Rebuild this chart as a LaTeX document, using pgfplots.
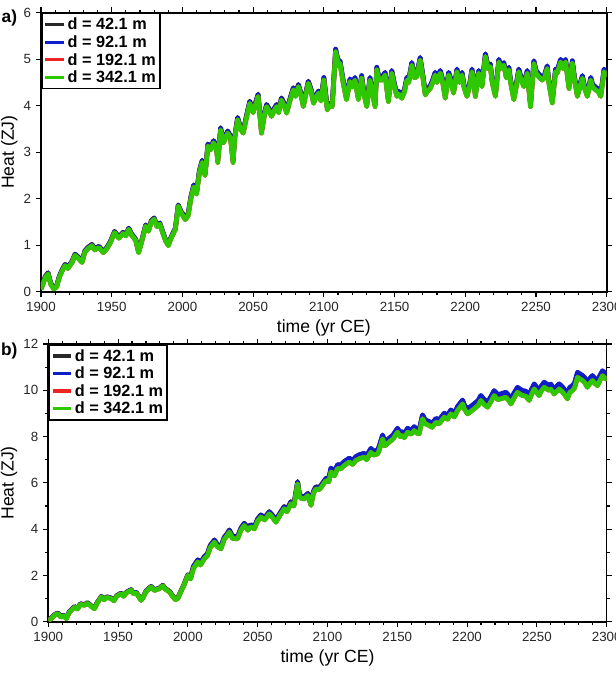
\documentclass[border=0pt]{standalone}
\usepackage{pgfplots}
\pgfplotsset{compat=1.18}
\usepackage{pgfplotstable}
\usepackage{fontspec}
\setmainfont{Liberation Sans}
\definecolor{cK}{RGB}{40,40,40}
\definecolor{cB}{RGB}{15,30,200}
\definecolor{cR}{RGB}{240,35,35}
\definecolor{cG}{RGB}{45,200,0}

\pgfplotstableread{
t k b g
1900 0.08 0.07 0.05
1901 0.16 0.15 0.13
1903 0.33 0.32 0.30
1905 0.41 0.40 0.38
1907 0.18 0.17 0.15
1909 0.09 0.08 0.06
1911 0.13 0.12 0.10
1913 0.34 0.33 0.31
1915 0.48 0.47 0.45
1917 0.59 0.58 0.56
1919 0.53 0.52 0.50
1922 0.66 0.65 0.63
1924 0.81 0.80 0.78
1926 0.76 0.75 0.73
1929 0.66 0.65 0.63
1931 0.88 0.87 0.85
1933 0.95 0.94 0.92
1936 1.02 1.01 0.99
1938 0.93 0.92 0.90
1941 0.98 0.97 0.95
1944 0.87 0.86 0.84
1946 0.93 0.92 0.90
1949 1.08 1.07 1.05
1952 1.30 1.29 1.27
1955 1.18 1.17 1.15
1958 1.28 1.27 1.25
1960 1.23 1.22 1.20
1962 1.37 1.36 1.34
1964 1.25 1.24 1.22
1967 1.13 1.12 1.10
1969 0.87 0.86 0.84
1971 1.08 1.07 1.05
1974 1.44 1.43 1.41
1976 1.33 1.32 1.30
1978 1.53 1.52 1.50
1980 1.59 1.58 1.56
1982 1.43 1.42 1.40
1984 1.48 1.47 1.45
1986 1.30 1.29 1.27
1988 1.13 1.12 1.10
1990 1.02 1.01 0.99
1992 1.18 1.17 1.15
1995 1.37 1.36 1.34
1997 1.87 1.86 1.84
1999 1.73 1.72 1.70
2002 1.60 1.59 1.55
2004 1.68 1.67 1.63
2006 2.05 2.04 2.00
2008 2.30 2.29 2.25
2010 2.15 2.14 2.10
2012 2.61 2.60 2.56
2014 2.83 2.82 2.78
2016 2.55 2.54 2.50
2018 3.18 3.17 3.13
2020 3.10 3.09 3.05
2022 3.25 3.24 3.20
2024 3.15 3.14 3.10
2025 2.83 2.82 2.78
2027 3.53 3.52 3.48
2029 3.25 3.24 3.20
2032 3.46 3.45 3.41
2034 3.35 3.34 3.30
2035.8 2.83 2.82 2.78
2037 3.35 3.34 3.30
2039 3.75 3.74 3.70
2041 3.55 3.54 3.50
2043 3.46 3.45 3.41
2045 3.75 3.74 3.70
2047.6 4.10 4.09 4.05
2050 3.90 3.89 3.85
2053.5 4.25 4.24 4.20
2055.9 3.46 3.45 3.41
2058 3.85 3.84 3.80
2059.5 4.03 4.02 3.98
2061 3.95 3.94 3.90
2063 3.82 3.81 3.77
2065 3.95 3.94 3.90
2066.6 4.03 4.02 3.98
2068 3.90 3.89 3.85
2070 4.17 4.16 4.12
2072 4.05 4.04 4.00
2073.7 3.89 3.88 3.84
2076 4.15 4.14 4.10
2078.4 4.39 4.38 4.34
2080 4.25 4.24 4.20
2082 4.46 4.45 4.41
2084 4.25 4.24 4.20
2085.5 4.03 4.02 3.98
2087 4.25 4.24 4.20
2089 4.53 4.52 4.48
2091 4.35 4.34 4.30
2092.7 4.10 4.09 4.05
2094 4.20 4.19 4.15
2096.2 4.32 4.31 4.27
2098 4.15 4.14 4.10
2100 4.60 4.61 4.55
2102.4 3.96 3.97 3.91
2104 4.05 4.06 4.00
2105.9 4.03 4.04 3.98
2108.3 5.21 5.22 5.16
2110.6 4.89 4.90 4.84
2111.4 4.96 4.97 4.91
2113.7 4.53 4.54 4.48
2116 4.18 4.19 4.13
2118.5 4.57 4.58 4.52
2120 4.45 4.46 4.40
2122 4.60 4.61 4.55
2124.4 4.18 4.19 4.13
2126.7 4.64 4.65 4.59
2128 4.35 4.36 4.30
2130.3 4.03 4.04 3.98
2132.6 4.60 4.61 4.55
2134 4.35 4.36 4.30
2136.2 4.03 4.04 3.98
2137.4 4.82 4.83 4.77
2139 4.60 4.61 4.55
2141 4.60 4.61 4.55
2143.3 4.71 4.72 4.66
2145.6 4.14 4.15 4.09
2148 4.75 4.76 4.70
2150 4.45 4.46 4.40
2151.6 4.25 4.26 4.20
2153 4.30 4.31 4.25
2155.1 4.21 4.22 4.16
2157 4.35 4.36 4.30
2158.7 4.60 4.61 4.55
2160 4.55 4.56 4.50
2162.2 4.92 4.93 4.87
2164 4.65 4.66 4.60
2165.7 4.67 4.68 4.62
2168.1 5.03 5.04 4.98
2170 4.65 4.66 4.60
2171.7 4.28 4.29 4.23
2173 4.35 4.36 4.30
2175.2 4.42 4.43 4.37
2177 4.55 4.56 4.50
2178.7 4.71 4.72 4.66
2180 4.55 4.56 4.50
2182.3 4.75 4.76 4.70
2184 4.55 4.56 4.50
2185.8 4.21 4.22 4.16
2187 4.45 4.46 4.40
2188.2 4.71 4.72 4.66
2190 4.55 4.56 4.50
2191.7 4.32 4.33 4.27
2194.1 4.78 4.79 4.73
2196 4.55 4.56 4.50
2197.7 4.71 4.72 4.66
2199 4.45 4.46 4.40
2201.2 4.25 4.26 4.20
2203 4.45 4.46 4.40
2204.7 4.78 4.79 4.73
2206 4.55 4.56 4.50
2207.1 4.25 4.26 4.20
2209.5 4.75 4.76 4.70
2211.8 4.46 4.47 4.41
2214.2 5.11 5.12 5.06
2216 4.85 4.86 4.80
2217.7 4.89 4.90 4.84
2219 4.55 4.56 4.50
2221.3 4.25 4.26 4.20
2223.7 4.99 5.00 4.94
2225 4.85 4.86 4.80
2227.2 4.92 4.93 4.87
2229 4.65 4.66 4.60
2230.8 4.82 4.83 4.77
2232 4.55 4.56 4.50
2234.3 4.18 4.19 4.13
2236 4.45 4.46 4.40
2237.8 4.78 4.79 4.73
2239 4.65 4.66 4.60
2241.4 4.46 4.47 4.41
2243.8 4.75 4.76 4.70
2246.1 4.03 4.04 3.98
2248.5 4.96 4.97 4.91
2250 4.75 4.76 4.70
2252 4.67 4.68 4.62
2254.4 4.60 4.61 4.55
2256 4.65 4.66 4.60
2257.9 4.85 4.86 4.80
2259 4.55 4.56 4.50
2261.5 4.11 4.12 4.06
2263.8 4.78 4.79 4.73
2265 4.75 4.76 4.70
2267.4 4.99 5.00 4.94
2269 4.85 4.86 4.80
2270.9 4.99 5.00 4.94
2273.3 4.42 4.43 4.37
2275.7 4.96 4.97 4.91
2277 4.65 4.66 4.60
2279.2 4.25 4.26 4.20
2281 4.45 4.46 4.40
2282.8 4.64 4.65 4.59
2284 4.45 4.46 4.40
2286.3 4.25 4.26 4.20
2288.7 4.60 4.61 4.55
2290 4.45 4.46 4.40
2292.2 4.39 4.40 4.34
2294 4.35 4.36 4.30
2295.8 4.25 4.26 4.20
2298.1 4.78 4.79 4.73
2300 4.67 4.68 4.62
}\topdata

\pgfplotstableread{
t k b g
1900 0.08 0.07 0.05
1902 0.16 0.15 0.13
1905 0.33 0.32 0.30
1907 0.38 0.37 0.35
1909 0.23 0.22 0.20
1911 0.28 0.27 0.25
1913 0.16 0.15 0.13
1915 0.43 0.42 0.40
1918.8 0.66 0.65 0.63
1921 0.58 0.57 0.55
1923 0.78 0.77 0.75
1926 0.74 0.73 0.71
1928 0.83 0.82 0.80
1931 0.68 0.67 0.65
1933.1 0.59 0.58 0.56
1935 0.83 0.82 0.80
1938 1.10 1.09 1.07
1940 0.98 0.97 0.95
1942 1.08 1.07 1.05
1945 1.03 1.02 1.00
1947 0.93 0.92 0.90
1949 1.13 1.12 1.10
1952.2 1.24 1.23 1.21
1954 1.13 1.12 1.10
1956 1.28 1.27 1.25
1959.4 1.39 1.38 1.36
1961 1.23 1.22 1.20
1963 1.28 1.27 1.25
1966.5 0.95 0.94 0.92
1968 1.08 1.07 1.05
1970 1.33 1.32 1.30
1973.7 1.53 1.52 1.50
1976 1.38 1.37 1.35
1979.7 1.46 1.45 1.43
1982 1.58 1.57 1.55
1984 1.43 1.42 1.40
1986.8 1.32 1.31 1.29
1989 1.13 1.12 1.10
1991 0.98 0.97 0.95
1992.8 1.03 1.02 1.00
1995 1.33 1.32 1.30
1997 1.58 1.57 1.55
1999.9 2.03 2.02 2.00
2002 1.95 1.93 1.85
2004 2.40 2.38 2.30
2007.1 2.68 2.66 2.58
2009 2.55 2.53 2.45
2011.8 2.82 2.80 2.72
2014 2.95 2.93 2.85
2016 3.30 3.28 3.20
2019 3.54 3.52 3.44
2021 3.35 3.33 3.25
2023.7 3.25 3.23 3.15
2026 3.65 3.63 3.55
2028 3.80 3.78 3.70
2029.7 3.97 3.95 3.87
2032 3.70 3.68 3.60
2035.6 3.68 3.66 3.58
2038 4.05 4.03 3.95
2040.4 4.26 4.24 4.16
2043 4.05 4.03 3.95
2045 4.20 4.18 4.10
2047.6 4.11 4.09 4.01
2050 4.45 4.43 4.35
2052.3 4.62 4.60 4.52
2055 4.50 4.48 4.40
2058.3 4.76 4.74 4.66
2060 4.65 4.63 4.55
2063.1 4.40 4.38 4.30
2066 4.70 4.68 4.60
2069 4.98 4.96 4.88
2071 4.85 4.83 4.75
2073.8 5.19 5.17 5.09
2076 5.10 5.08 5.00
2078.6 6.06 6.04 5.96
2080 5.50 5.48 5.40
2081.5 5.42 5.40 5.32
2083.4 5.41 5.39 5.31
2086 5.55 5.53 5.45
2088.2 5.13 5.11 5.03
2090 5.65 5.63 5.55
2091.7 5.84 5.82 5.74
2094 5.80 5.78 5.70
2096 5.95 5.93 5.85
2098.9 6.20 6.18 6.10
2101 6.21 6.22 6.05
2102.5 6.63 6.64 6.47
2105 6.46 6.47 6.30
2107.2 6.78 6.79 6.62
2109.6 6.77 6.78 6.61
2112 6.91 6.92 6.75
2115.6 7.06 7.07 6.90
2118 6.96 6.97 6.80
2120.4 7.13 7.14 6.97
2123 7.21 7.22 7.05
2126.3 7.27 7.28 7.11
2128 7.16 7.17 7.00
2131.1 7.48 7.49 7.32
2133 7.36 7.37 7.20
2135.9 7.41 7.42 7.25
2137 7.56 7.57 7.40
2139.5 8.06 8.07 7.90
2141 7.76 7.77 7.60
2144.2 7.92 7.93 7.76
2147 8.06 8.07 7.90
2150.2 8.35 8.36 8.19
2152 8.16 8.17 8.00
2153.8 8.21 8.22 8.05
2155 8.11 8.12 7.95
2157.4 8.35 8.36 8.19
2160 8.26 8.27 8.10
2162.1 8.42 8.43 8.26
2164 8.31 8.32 8.15
2165.7 8.28 8.29 8.12
2168.1 8.93 8.94 8.77
2170 8.71 8.72 8.55
2172.9 8.64 8.65 8.48
2175 8.56 8.57 8.40
2177.7 8.78 8.79 8.62
2180 8.71 8.72 8.55
2183.6 9.00 9.01 8.84
2186 8.91 8.92 8.75
2188.4 9.14 9.15 8.98
2191 9.01 9.02 8.85
2193.2 9.29 9.30 9.13
2196.8 9.57 9.58 9.41
2198 9.36 9.37 9.20
2200.3 9.18 9.20 8.98
2203 9.30 9.32 9.10
2205.1 9.40 9.42 9.20
2208 9.55 9.57 9.35
2209.9 9.76 9.78 9.56
2212 9.60 9.62 9.40
2214.7 9.47 9.49 9.27
2217 9.70 9.72 9.50
2219.4 9.97 9.99 9.77
2222 9.80 9.82 9.60
2224.2 9.83 9.85 9.63
2227.8 9.90 9.92 9.70
2230 9.75 9.77 9.55
2231.4 9.61 9.63 9.41
2234 9.90 9.92 9.70
2236.1 10.11 10.13 9.91
2239.7 9.97 9.99 9.77
2242 9.95 9.97 9.75
2244.5 9.76 9.78 9.56
2246 10.00 10.02 9.80
2248.1 10.26 10.28 10.06
2250 10.10 10.12 9.90
2251.6 9.97 9.99 9.77
2253 10.15 10.17 9.95
2255.2 10.33 10.35 10.13
2258.8 10.19 10.21 9.99
2260 10.25 10.27 10.05
2262.4 10.04 10.06 9.84
2266 10.26 10.28 10.06
2268 10.15 10.17 9.95
2269.5 10.04 10.06 9.84
2271.9 9.83 9.85 9.63
2273.5 10.10 10.12 9.90
2275.5 10.19 10.21 9.99
2277 10.30 10.32 10.10
2279.1 10.76 10.78 10.56
2282.7 10.62 10.64 10.42
2284 10.55 10.57 10.35
2286.2 10.33 10.35 10.13
2288 10.50 10.52 10.30
2289.8 10.62 10.64 10.42
2291.5 10.50 10.52 10.30
2293.4 10.40 10.42 10.20
2295 10.60 10.62 10.40
2297 10.83 10.85 10.63
2299.3 10.69 10.71 10.49
2300 10.75 10.77 10.55
}\botdata

\pgfplotsset{
  heatax/.style={
    scale only axis, anchor=south west,
    xmin=1900, xmax=2300, xtick={1900,1950,...,2300}, minor x tick num=4,
    tick align=outside, major tick length=4pt, minor tick length=2.2pt,
    every tick/.style={black, line width=0.8pt},
    axis line style={line width=1.2pt, black},
    ticklabel style={font=\fontsize{10}{12}\selectfont, text=black!85},
    /pgf/number format/assume math mode=true,
    /pgf/number format/1000 sep={},
    xlabel={time (yr CE)}, ylabel={Heat (ZJ)},
    label style={font=\fontsize{13.2}{15}\selectfont},
    xlabel style={at={(axis description cs:0.5,0)}, anchor=center, yshift=-27pt},
    legend cell align=left,
    legend style={at={(0,1)}, anchor=north west, draw=black, line width=1.2pt,
      font=\fontsize{12.2}{13.5}\selectfont\bfseries, inner xsep=1.5pt, inner ysep=2pt,
      row sep=0.3pt, nodes={inner sep=1.5pt, text depth=0.1em}},
    legend image code/.code={\draw[#1, line width=2.4pt] (0pt,0pt) -- (14pt,0pt);},
  },
  sK/.style={color=cK, line width=3.5pt, line join=round},
  sB/.style={color=cB, line width=3.5pt, line join=round},
  sR/.style={color=cR, line width=3.5pt, line join=round},
  sG/.style={color=cG, line width=3.5pt, line join=round},
}

\begin{document}
\begin{tikzpicture}[x=1pt,y=1pt]
\useasboundingbox (0,0) rectangle (462,508.5);
\begin{axis}[heatax, at={(30.75pt,289.7pt)}, width=424.3pt, height=209.25pt,
  ymin=0, ymax=6, ytick={0,1,...,6},
  ylabel style={at={(axis description cs:-0.0560,0.5)}, anchor=center}]
\addplot[sK] table[x=t,y=k]{\topdata}; \addlegendentry{d = 42.1 m}
\addplot[sB] table[x=t,y=b]{\topdata}; \addlegendentry{d = 92.1 m}
\addplot[sR] table[x=t,y=g]{\topdata}; \addlegendentry{d = 192.1 m}
\addplot[sG] table[x=t,y=g]{\topdata}; \addlegendentry{d = 342.1 m}
\end{axis}
\begin{axis}[heatax, at={(36.2pt,42.2pt)}, width=418.8pt, height=208.3pt,
  ymin=0, ymax=12, ytick={0,2,...,12}, minor y tick num=1,
  ylabel style={at={(axis description cs:-0.0700,0.5)}, anchor=center}]
\addplot[sK] table[x=t,y=k]{\botdata}; \addlegendentry{d = 42.1 m}
\addplot[sB] table[x=t,y=b]{\botdata}; \addlegendentry{d = 92.1 m}
\addplot[sR] table[x=t,y=g]{\botdata}; \addlegendentry{d = 192.1 m}
\addplot[sG] table[x=t,y=g]{\botdata}; \addlegendentry{d = 342.1 m}
\end{axis}
\node[font=\fontsize{13}{15}\selectfont\bfseries] at (7pt,495pt) {a)};
\node[font=\fontsize{13}{15}\selectfont\bfseries] at (7pt,245.25pt) {b)};
\end{tikzpicture}
\end{document}
